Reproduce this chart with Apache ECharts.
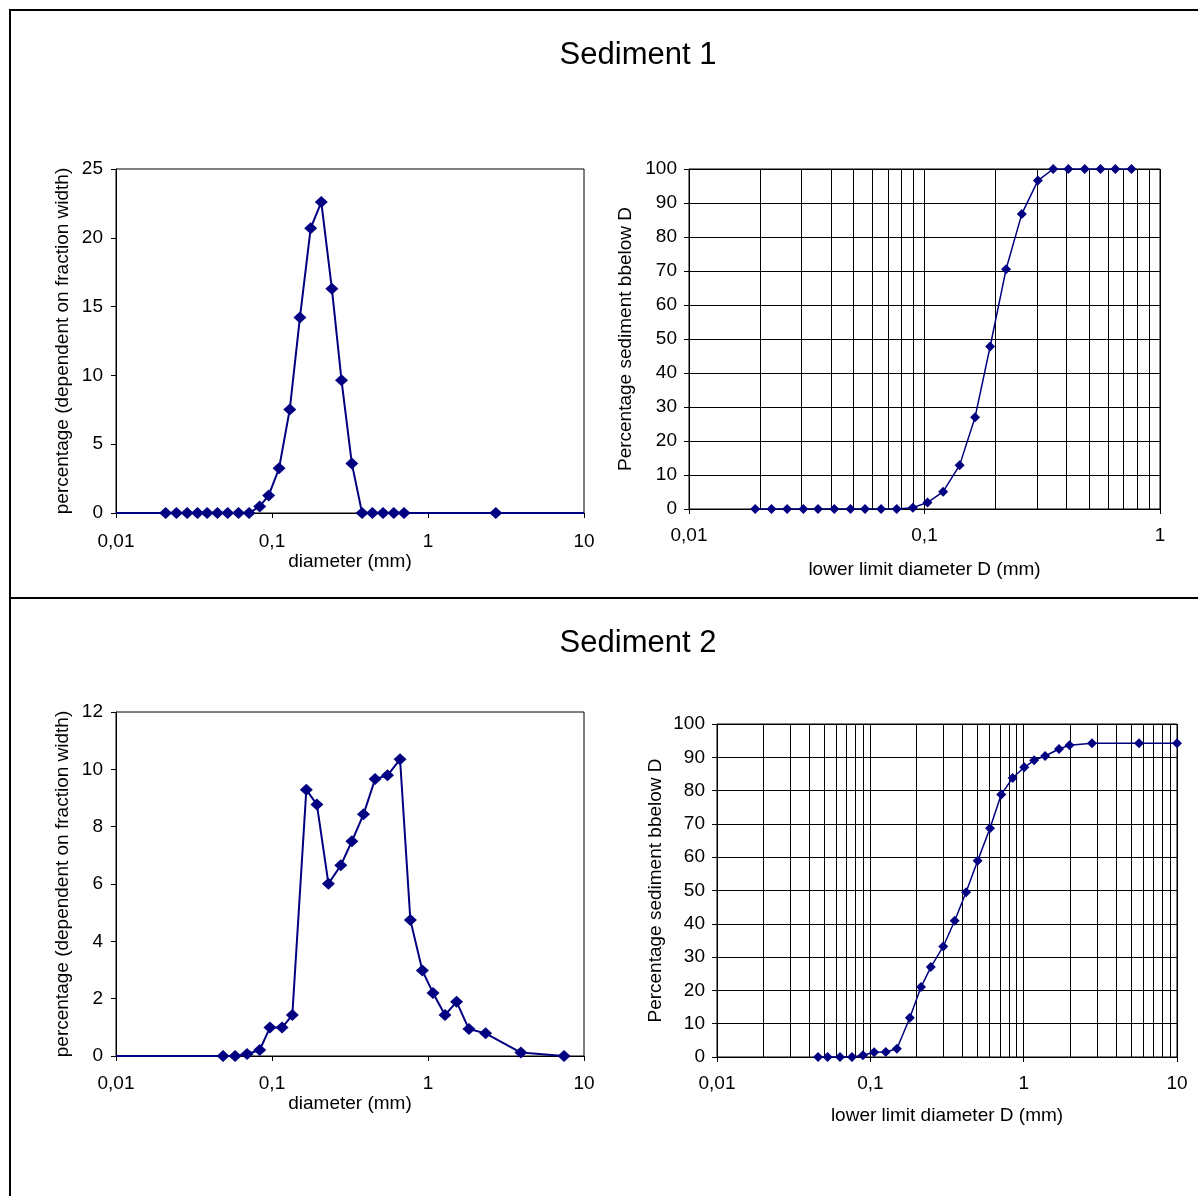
<!DOCTYPE html>
<html>
<head>
<meta charset="utf-8">
<script src="https://cdn.jsdelivr.net/npm/echarts@6/dist/echarts.min.js"></script>
<style>
  html, body { margin: 0; padding: 0; background: #fff; }
  #chart { width: 1198px; height: 1196px; }
</style>
</head>
<body>
<div id="chart"></div>
<script>
// Sediment 1: fraction distribution (diameter in mm, percentage)
const sed1Diam = [0.01, 0.0208, 0.0244, 0.0286, 0.0333, 0.0384, 0.0447, 0.052, 0.061, 0.0713,
  0.0834, 0.0952, 0.111, 0.130, 0.151, 0.177, 0.207, 0.242, 0.279, 0.325,
  0.378, 0.44, 0.515, 0.603, 0.702, 2.72, 10];
const sed1Pct = [0, 0, 0, 0, 0, 0, 0, 0, 0, 0,
  0.48, 1.28, 3.25, 7.53, 14.2, 20.7, 22.6, 16.3, 9.64, 3.59,
  0, 0, 0, 0, 0, 0, 0];

// Sediment 1: cumulative (lower limit diameter D, % below D)
const cum1Diam = [0.0191, 0.0224, 0.0261, 0.0306, 0.0353, 0.0414, 0.0485, 0.0559, 0.0654, 0.0762,
  0.0892, 0.103, 0.120, 0.141, 0.164, 0.190, 0.222, 0.259, 0.303, 0.352,
  0.408, 0.479, 0.559, 0.646, 0.757];
const cum1Pct = [0, 0, 0, 0, 0, 0, 0, 0, 0, 0,
  0.4, 1.9, 5.1, 12.9, 27.0, 47.8, 70.5, 86.8, 96.6, 100,
  100, 100, 100, 100, 100];

// Sediment 2: fraction distribution
const sed2Diam = [0.01, 0.0486, 0.058, 0.0692, 0.0834, 0.097, 0.116, 0.135, 0.166, 0.194,
  0.230, 0.276, 0.325, 0.386, 0.458, 0.550, 0.662, 0.771, 0.920, 1.077,
  1.285, 1.525, 1.83, 2.34, 3.94, 7.45];
const sed2Pct = [0, 0, 0, 0.07, 0.21, 0.99, 0.99, 1.43, 9.29, 8.77,
  6.01, 6.65, 7.49, 8.43, 9.66, 9.79, 10.35, 4.74, 2.98, 2.20,
  1.43, 1.89, 0.94, 0.79, 0.12, 0];

// Sediment 2: cumulative
const cum2Diam = [0.0456, 0.0526, 0.0634, 0.0759, 0.0895, 0.106, 0.126, 0.149, 0.181, 0.214,
  0.248, 0.299, 0.355, 0.421, 0.501, 0.603, 0.714, 0.847, 1.009, 1.17,
  1.38, 1.70, 1.99, 2.79, 5.65, 10];
const cum2Pct = [0, 0, 0, 0, 0.5, 1.4, 1.5, 2.5, 11.8, 21.0,
  27.0, 33.2, 40.9, 49.5, 58.9, 68.7, 78.8, 83.8, 87.0, 89.1,
  90.4, 92.5, 93.6, 94.2, 94.2, 94.2];

const titles = ["Sediment 1", "Sediment 2"];
const distYName = "percentage (dependent on fraction width)";
const distXName = "diameter (mm)";
const cumYName = "Percentage sediment bbelow D";
const cumXName = "lower limit diameter D (mm)";

const FONT = "'Liberation Sans', Arial, sans-serif";
const FS = 19;
const NAVY = "#000080";

// vertical log-paper lines (2..9 of each decade)
function minorLines(lo, hi) {
  const out = [];
  for (let d = lo; d < hi; d *= 10) {
    for (let k = 2; k <= 9; k++) out.push({ xAxis: +(k * d).toPrecision(3) });
  }
  return out;
}

const fmt = (v) => String(+(+v).toPrecision(3)).replace(".", ",");

function pairs(xs, ys) {
  return xs.map((x, i) => {
    const item = { value: [x, ys[i]] };
    // edge points only continue the line, no marker there
    if ((x === 0.01 || x === 10) && (xs === sed1Diam || xs === sed2Diam)) {
      item.symbol = "none";
    }
    return item;
  });
}

function xAxisOf(i, max, name, gap, margin, grid) {
  return {
    type: "log", logBase: 10, gridIndex: i, min: 0.01, max: max,
    name: name, nameLocation: "middle", nameGap: gap,
    nameTextStyle: { color: "#000", fontSize: FS, fontFamily: FONT },
    axisLine: { lineStyle: { color: "#000", width: 1 } },
    axisTick: { show: true, length: 5, lineStyle: { color: "#000" } },
    axisLabel: { color: "#000", fontSize: FS, fontFamily: FONT, margin: margin, formatter: fmt },
    splitLine: { show: grid, lineStyle: { color: "#000", width: 1 } },
  };
}

function yAxisOf(i, max, step, name, gap, margin, grid) {
  return {
    type: "value", gridIndex: i, min: 0, max: max, interval: step,
    name: name, nameLocation: "middle", nameGap: gap,
    nameTextStyle: { color: "#000", fontSize: FS, fontFamily: FONT },
    axisLine: { show: true, lineStyle: { color: "#000", width: 1 } },
    axisTick: { show: true, length: 5, lineStyle: { color: "#000" } },
    axisLabel: { color: "#000", fontSize: FS, fontFamily: FONT, margin: margin },
    splitLine: { show: grid, lineStyle: { color: "#000", width: 1 } },
  };
}

function lineSeries(i, xs, ys, size, width, minors) {
  const s = {
    type: "line", xAxisIndex: i, yAxisIndex: i,
    data: pairs(xs, ys),
    symbol: "diamond", symbolSize: size,
    itemStyle: { color: NAVY },
    lineStyle: { color: NAVY, width: width },
    z: 5,
  };
  if (minors) {
    s.markLine = {
      silent: true, symbol: "none", animation: false,
      label: { show: false },
      lineStyle: { color: "#000", type: "solid", width: 1 },
      emphasis: { disabled: true },
      data: minors,
    };
  }
  return s;
}

let myChart = echarts.init(document.querySelector("#chart"));
let option = {
  animation: false,
  backgroundColor: "#fff",
  grid: [
    { left: 116, top: 169, width: 468, height: 344, show: true, borderColor: "#000", borderWidth: 1 },
    { left: 689, top: 169, width: 471, height: 340, show: true, borderColor: "#000", borderWidth: 1 },
    { left: 116, top: 712, width: 468, height: 344, show: true, borderColor: "#000", borderWidth: 1 },
    { left: 717, top: 724, width: 460, height: 333, show: true, borderColor: "#000", borderWidth: 1 },
  ],
  xAxis: [
    xAxisOf(0, 10, distXName, 38, 19, false),
    xAxisOf(1, 1, cumXName, 51, 17, true),
    xAxisOf(2, 10, distXName, 38, 18, false),
    xAxisOf(3, 10, cumXName, 49, 17, true),
  ],
  yAxis: [
    yAxisOf(0, 25, 5, distYName, 44, 13, false),
    yAxisOf(1, 100, 10, cumYName, 54, 12, true),
    yAxisOf(2, 12, 2, distYName, 44, 13, false),
    yAxisOf(3, 100, 10, cumYName, 52, 12, true),
  ],
  series: [
    lineSeries(0, sed1Diam, sed1Pct, [13, 12], 2, null),
    lineSeries(1, cum1Diam, cum1Pct, [10, 10], 1.5, minorLines(0.01, 1)),
    lineSeries(2, sed2Diam, sed2Pct, [13, 12], 2, null),
    lineSeries(3, cum2Diam, cum2Pct, [10, 10], 1.5, minorLines(0.01, 10)),
  ],
  graphic: [
    { type: "line", shape: { x1: 10, y1: 10, x2: 1198, y2: 10 }, style: { stroke: "#000", lineWidth: 2 } },
    { type: "line", shape: { x1: 10, y1: 9, x2: 10, y2: 1196 }, style: { stroke: "#000", lineWidth: 2 } },
    { type: "line", shape: { x1: 10, y1: 598, x2: 1198, y2: 598 }, style: { stroke: "#000", lineWidth: 2 } },
    { type: "text", x: 638, y: 55, style: { text: titles[0], fill: "#000", font: "31px " + FONT, textAlign: "center", textVerticalAlign: "middle" } },
    { type: "text", x: 638, y: 643, style: { text: titles[1], fill: "#000", font: "31px " + FONT, textAlign: "center", textVerticalAlign: "middle" } },
  ],
};
myChart.setOption(option);
window.addEventListener("resize", () => {
  myChart.resize();
});
</script>
</body>
</html>
